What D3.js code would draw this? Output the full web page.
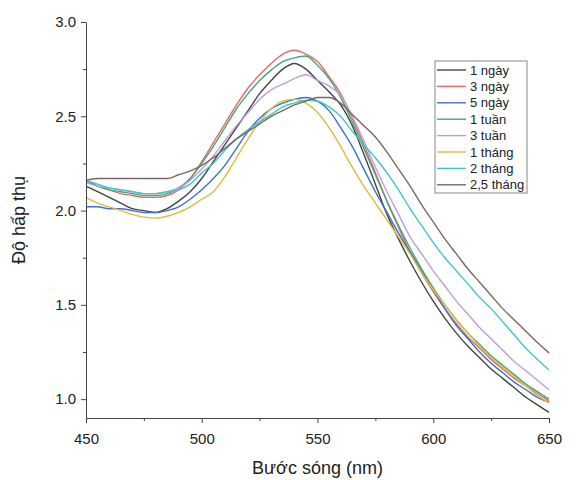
<!doctype html>
<html lang="vi">
<head>
<meta charset="utf-8" />
<title>Độ hấp thụ theo bước sóng</title>
<script src="https://d3js.org/d3.v7.min.js"></script>
<style>
  body { margin: 0; background: #fff; }
  svg text { font-family: "Liberation Sans", Arial, sans-serif; fill: #222; }
  .axis path, .axis line { stroke: #444; }
  .axis text { font-size: 15px; fill: #222; }
</style>
</head>
<body>
<div id="chart"></div>
<script>
// wavelength (nm)
var wavelengths = [450, 455, 460, 465, 470, 475, 480, 485, 490, 495,
                   500, 505, 510, 515, 520, 525, 530, 535, 540, 545,
                   550, 555, 560, 565, 570, 575, 580, 585, 590, 595,
                   600, 605, 610, 615, 620, 625, 630, 635, 640, 645, 650];

var seriesNames = ["1 ngày", "3 ngày", "5 ngày", "1 tuần", "3 tuần", "1 tháng", "2 tháng", "2,5 tháng"];
var seriesColors = ["#444444", "#e26a6a", "#3f6fcc", "#45a874", "#bf9ce0", "#dcbc3c", "#3fc6cf", "#7f6464"];

var ngay1 = [2.13, 2.10, 2.07, 2.04, 2.01, 2.00, 1.99, 2.01, 2.05, 2.10,
             2.17, 2.26, 2.35, 2.44, 2.53, 2.62, 2.69, 2.75, 2.78, 2.75,
             2.69, 2.63, 2.56, 2.45, 2.30, 2.14, 1.98, 1.85, 1.73, 1.62,
             1.52, 1.43, 1.35, 1.28, 1.22, 1.16, 1.11, 1.06, 1.01, 0.97, 0.93];
var ngay3 = [2.15, 2.13, 2.11, 2.09, 2.08, 2.07, 2.07, 2.08, 2.11, 2.17,
             2.26, 2.36, 2.46, 2.56, 2.65, 2.72, 2.78, 2.83, 2.85, 2.83,
             2.79, 2.71, 2.62, 2.49, 2.35, 2.20, 2.05, 1.91, 1.78, 1.67,
             1.57, 1.48, 1.40, 1.33, 1.27, 1.21, 1.16, 1.11, 1.07, 1.03, 0.99];
var ngay5 = [2.02, 2.02, 2.01, 2.01, 2.00, 1.99, 1.99, 2.00, 2.02, 2.06,
             2.11, 2.17, 2.24, 2.33, 2.42, 2.49, 2.54, 2.57, 2.59, 2.60,
             2.58, 2.53, 2.44, 2.34, 2.22, 2.10, 1.99, 1.88, 1.78, 1.68,
             1.58, 1.48, 1.39, 1.32, 1.25, 1.19, 1.14, 1.09, 1.05, 1.01, 0.985];
var tuan1 = [2.16, 2.13, 2.11, 2.10, 2.09, 2.08, 2.08, 2.09, 2.12, 2.17,
             2.25, 2.34, 2.44, 2.54, 2.62, 2.69, 2.745, 2.79, 2.81, 2.82,
             2.77, 2.70, 2.60, 2.47, 2.33, 2.19, 2.05, 1.92, 1.80, 1.69,
             1.59, 1.50, 1.42, 1.35, 1.29, 1.23, 1.18, 1.13, 1.08, 1.04, 1.00];
var tuan3 = [2.15, 2.13, 2.12, 2.11, 2.10, 2.09, 2.09, 2.10, 2.12, 2.16,
             2.22, 2.29, 2.37, 2.45, 2.52, 2.59, 2.64, 2.67, 2.70, 2.72,
             2.69, 2.66, 2.61, 2.50, 2.37, 2.23, 2.10, 1.98, 1.86, 1.77,
             1.68, 1.60, 1.52, 1.45, 1.38, 1.32, 1.26, 1.20, 1.15, 1.10, 1.05];
var thang1 = [2.07, 2.04, 2.02, 2.00, 1.98, 1.965, 1.96, 1.97, 1.99, 2.02,
              2.06, 2.10, 2.18, 2.28, 2.38, 2.47, 2.54, 2.58, 2.59, 2.57,
              2.52, 2.44, 2.34, 2.23, 2.13, 2.04, 1.95, 1.86, 1.77, 1.67,
              1.58, 1.50, 1.42, 1.35, 1.28, 1.22, 1.17, 1.12, 1.07, 1.02, 0.98];
var thang2 = [2.16, 2.14, 2.12, 2.11, 2.10, 2.09, 2.09, 2.10, 2.11, 2.14,
              2.20, 2.25, 2.32, 2.38, 2.43, 2.47, 2.51, 2.55, 2.57, 2.585,
              2.58, 2.55, 2.50, 2.42, 2.35, 2.28, 2.20, 2.11, 2.01, 1.92,
              1.83, 1.75, 1.68, 1.61, 1.54, 1.48, 1.41, 1.34, 1.27, 1.21, 1.155];
var thang25 = [2.16, 2.17, 2.17, 2.17, 2.17, 2.17, 2.17, 2.17, 2.19, 2.21,
               2.24, 2.28, 2.33, 2.38, 2.42, 2.46, 2.50, 2.53, 2.56, 2.58,
               2.60, 2.60, 2.57, 2.51, 2.45, 2.39, 2.31, 2.22, 2.13, 2.03,
               1.94, 1.85, 1.77, 1.69, 1.62, 1.55, 1.48, 1.42, 1.36, 1.30, 1.245];

var xTicks = [450, 500, 550, 600, 650];
var xMinor = [475, 525, 575, 625];
var yTicks = [1.0, 1.5, 2.0, 2.5, 3.0];
var yMinor = [1.25, 1.75, 2.25, 2.75];

var allSeries = [ngay1, ngay3, ngay5, tuan1, tuan3, thang1, thang2, thang25];

var width = 587, height = 480;
var margin = { top: 22, right: 38, bottom: 62, left: 86 };
var innerW = width - margin.left - margin.right,
    innerH = height - margin.top - margin.bottom;

var svg = d3.select("#chart").append("svg")
    .attr("width", width)
    .attr("height", height);

var g = svg.append("g")
    .attr("transform", `translate(${margin.left},${margin.top})`);

var x = d3.scaleLinear().domain([450, 650]).range([0, innerW]);
var y = d3.scaleLinear().domain([0.9, 3.0]).range([innerH, 0]);

// lines
var line = d3.line()
    .x(d => x(d[0]))
    .y(d => y(d[1]))
    .curve(d3.curveMonotoneX);

allSeries.forEach(function (vals, i) {
    var pts = wavelengths.map((w, j) => [w, vals[j]]);
    g.append("path")
        .datum(pts)
        .attr("fill", "none")
        .attr("stroke", seriesColors[i])
        .attr("stroke-width", 1.4)
        .attr("d", line);
});

// X axis
g.append("g")
    .attr("class", "axis")
    .attr("transform", `translate(0,${innerH})`)
    .call(d3.axisBottom(x).tickValues(xTicks).tickSize(5).tickSizeOuter(0).tickPadding(10));
g.append("g")
    .attr("class", "axis")
    .attr("transform", `translate(0,${innerH})`)
    .call(d3.axisBottom(x).tickValues(xMinor).tickSize(3).tickSizeOuter(0).tickFormat(""))
    .select(".domain").remove();

// Y axis
g.append("g")
    .attr("class", "axis")
    .call(d3.axisLeft(y).tickValues(yTicks).tickFormat(d3.format(".1f")).tickSize(5).tickSizeOuter(0).tickPadding(5));
g.append("g")
    .attr("class", "axis")
    .call(d3.axisLeft(y).tickValues(yMinor).tickSize(3).tickSizeOuter(0).tickFormat(""))
    .select(".domain").remove();

// axis titles
svg.append("text")
    .attr("x", margin.left + innerW / 2)
    .attr("y", 474)
    .attr("text-anchor", "middle")
    .style("font-size", "18px")
    .text("Bước sóng (nm)");

svg.append("text")
    .attr("transform", `translate(25,${margin.top + innerH / 2}) rotate(-90)`)
    .attr("text-anchor", "middle")
    .style("font-size", "18px")
    .text("Độ hấp thụ");

// legend
var legend = svg.append("g").attr("transform", "translate(435,61)");
legend.append("rect")
    .attr("width", 92)
    .attr("height", 132)
    .attr("fill", "#fff")
    .attr("stroke", "#888")
    .attr("stroke-width", 1);

seriesNames.forEach(function (name, i) {
    var yy = 9 + i * 16.4;
    legend.append("line")
        .attr("x1", 2).attr("x2", 31)
        .attr("y1", yy).attr("y2", yy)
        .attr("stroke", seriesColors[i])
        .attr("stroke-width", 1.4);
    legend.append("text")
        .attr("x", 35)
        .attr("y", yy + 4.5)
        .style("font-size", "13px")
        .text(name);
});
</script>
</body>
</html>
